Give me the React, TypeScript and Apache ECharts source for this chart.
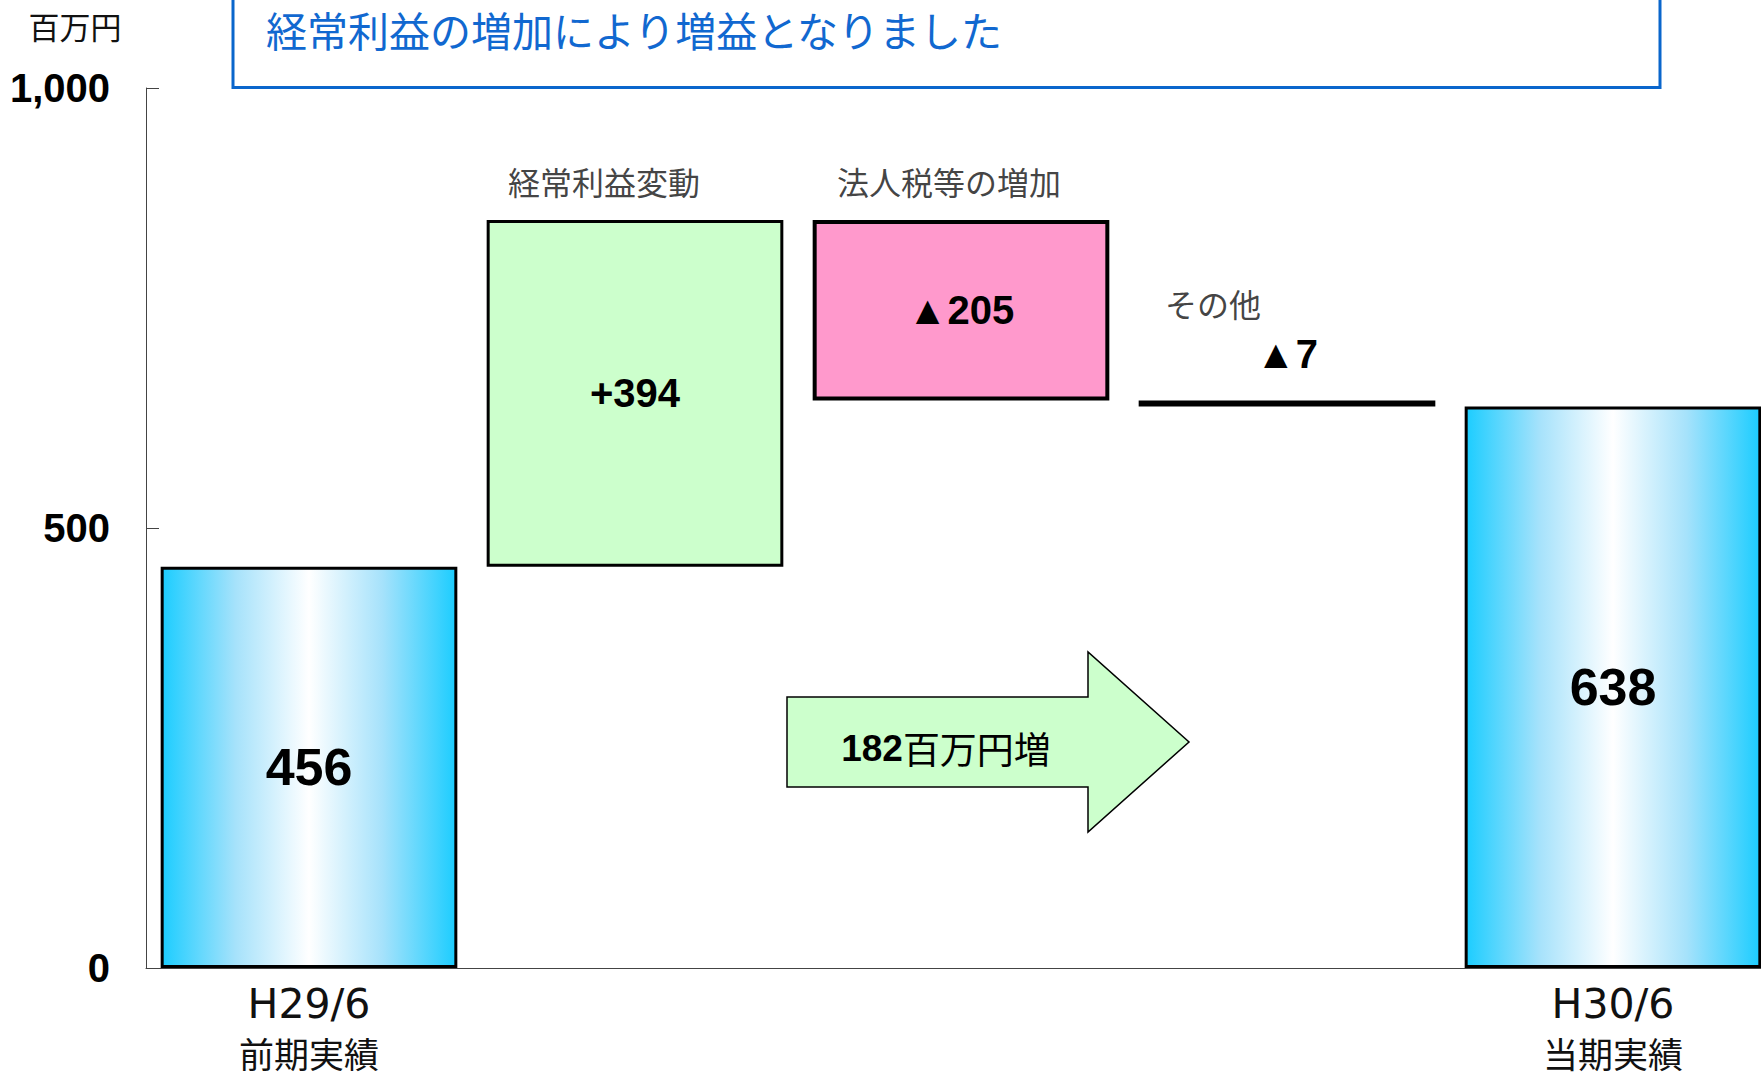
import React, { useEffect, useRef } from "react";
import * as echarts from "echarts";

// ---- data ----
const categories = ["H29/6\n前期実績", "経常利益変動", "法人税等の増加", "その他", "H30/6\n当期実績"];
const startValue = 456;
const deltas = [394, -205, -7];
const endValue = 638;
const diffLabelNumber = "182";
const diffLabelText = "百万円増";
const unitLabel = "百万円";
const titleText = "経常利益の増加により増益となりました";
const yMin = 0;
const yMax = 1000;
const yInterval = 500;

const JP = '"Noto Sans CJK JP", "Noto Sans", sans-serif';
const AR = '"Liberation Sans", Arial, sans-serif';

export default function App() {
  const ref = useRef<HTMLDivElement>(null);
  useEffect(() => {
    document.body.style.margin = "0";
    if (!ref.current) return;
    const chart = echarts.init(ref.current, undefined, { renderer: "svg" });

    const bases: number[] = [0];
    const heights: number[] = [startValue];
    const tops: number[] = [startValue];
    const labels: string[] = [String(startValue)];
    let cum = startValue;
    deltas.forEach((d) => {
      if (d >= 0) {
        bases.push(cum);
        heights.push(d);
        cum += d;
        tops.push(cum);
        labels.push("+" + d);
      } else {
        const prev = cum;
        cum += d;
        bases.push(cum);
        heights.push(-d);
        tops.push(prev);
        labels.push("▲" + -d);
      }
    });
    bases.push(0);
    heights.push(endValue);
    tops.push(endValue);
    labels.push(String(endValue));

    const blueGrad = new echarts.graphic.LinearGradient(0, 0, 1, 0, [
      { offset: 0, color: "#1ccdff" },
      { offset: 0.25, color: "#a6e2fb" },
      { offset: 0.5, color: "#ffffff" },
      { offset: 0.75, color: "#a6e2fb" },
      { offset: 1, color: "#1ccdff" },
    ]);

    const itemStyles = [
      { color: blueGrad, borderColor: "#000", borderWidth: 3 },
      { color: "#ccffcc", borderColor: "#000", borderWidth: 3 },
      { color: "#ff99cc", borderColor: "#000", borderWidth: 4 },
      { color: "#ff99cc", borderColor: "#000", borderWidth: 3 },
      { color: blueGrad, borderColor: "#000", borderWidth: 3 },
    ];
    const labelSizes = [52, 40, 40, 40, 52];

    const valueData = heights.map((h, i) => ({
      value: h,
      itemStyle: itemStyles[i],
      label: {
        show: true,
        formatter: labels[i],
        position: i === 3 ? "top" : "inside",
        distance: 26,
        fontSize: labelSizes[i],
        fontWeight: "bold",
        fontFamily: AR,
        color: "#000",
      },
    }));

    const nameOffsets: Record<number, number[]> = { 1: [-31, -39], 2: [-12, -39], 3: [-74, -97] };
    const nameData = [1, 2, 3].map((i) => ({
      value: [i, tops[i]],
      label: {
        show: true,
        formatter: categories[i],
        position: "inside",
        offset: nameOffsets[i],
        fontSize: 32,
        fontFamily: JP,
        color: "#111",
      },
    }));

    chart.setOption({
      animation: false,
      backgroundColor: "#fff",
      title: {
        text: titleText,
        left: 266,
        top: 0,
        padding: 0,
        textStyle: { fontSize: 41, lineHeight: 58, color: "#1168d0", fontWeight: "normal", fontFamily: JP },
      },
      grid: { left: 146, top: 88, width: 1630, height: 880, outerBoundsMode: "none", containLabel: false },
      xAxis: {
        type: "category",
        data: categories,
        axisLine: { lineStyle: { color: "#444", width: 1 } },
        axisTick: { show: false },
        axisLabel: {
          interval: 0,
          margin: 6,
          formatter: (v: string, i: number) => {
            if (i !== 0 && i !== categories.length - 1) return "";
            const [a, b] = v.split("\n");
            return `{a|${a}}\n{b|${b}}`;
          },
          rich: {
            a: { fontFamily: '"DejaVu Sans", sans-serif', fontSize: 41, lineHeight: 60, color: "#111" },
            b: { fontFamily: JP, fontSize: 35, lineHeight: 36, color: "#111" },
          },
        },
      },
      yAxis: {
        type: "value",
        min: yMin,
        max: yMax,
        interval: yInterval,
        splitLine: { show: false },
        axisLine: { show: true, lineStyle: { color: "#444", width: 1 } },
        axisTick: { show: true, inside: true, length: 13, lineStyle: { color: "#444" } },
        axisLabel: {
          margin: 36,
          fontSize: 40,
          fontWeight: "bold",
          fontFamily: AR,
          color: "#000",
          formatter: (v: number) => v.toLocaleString("en-US"),
        },
      },
      series: [
        {
          type: "bar",
          stack: "w",
          barCategoryGap: "9%",
          itemStyle: { color: "transparent" },
          data: bases,
          silent: true,
        },
        {
          type: "bar",
          stack: "w",
          barCategoryGap: "9%",
          data: valueData,
        },
        {
          type: "scatter",
          symbolSize: 1,
          itemStyle: { color: "transparent" },
          data: nameData,
          z: 5,
        },
      ],
      graphic: [
        {
          type: "rect",
          shape: { x: 233, y: -10, width: 1427, height: 97.5 },
          style: { fill: "none", stroke: "#0a66cc", lineWidth: 3 },
          z: 10,
        },
        {
          type: "text",
          x: 75,
          y: 25,
          style: {
            text: unitLabel,
            font: `normal 31px ${JP}`,
            fill: "#111",
            textAlign: "center",
            textVerticalAlign: "middle",
          },
        },
        {
          type: "polygon",
          shape: {
            points: [
              [787, 697],
              [1088, 697],
              [1088, 652],
              [1189, 742],
              [1088, 832],
              [1088, 787],
              [787, 787],
            ],
          },
          style: { fill: "#ccffcc", stroke: "#000", lineWidth: 1.5 },
          z: 10,
        },
        {
          type: "text",
          x: 946,
          y: 748,
          z: 11,
          style: {
            text: `{a|${diffLabelNumber}}{b|${diffLabelText}}`,
            textAlign: "center",
            textVerticalAlign: "middle",
            rich: {
              a: { fontFamily: AR, fontWeight: "bold", fontSize: 37, fill: "#000", color: "#000" },
              b: { fontFamily: JP, fontWeight: "normal", fontSize: 37, fill: "#000", color: "#000" },
            },
          },
        },
      ],
    });
    return () => chart.dispose();
  }, []);
  return <div ref={ref} style={{ width: 1761, height: 1078 }} />;
}
